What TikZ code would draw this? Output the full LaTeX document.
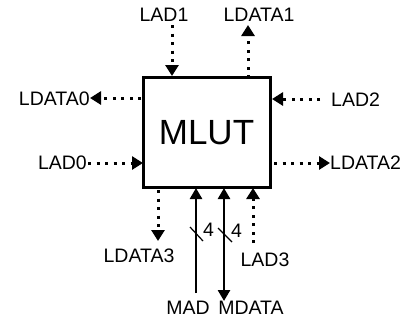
\documentclass[tikz,border=0pt]{standalone}
\usepackage{fontspec}
\setmainfont{Liberation Sans}
\usetikzlibrary{arrows.meta}
\begin{document}
\begin{tikzpicture}[x=1pt,y=-1pt,
  lbl/.style={font=\fontsize{19.5}{21}\selectfont, inner sep=0pt},
  dotline/.style={line width=3pt, dash pattern=on 3pt off 5.5pt, -{Triangle[length=11pt,width=13pt]}},
  solidline/.style={line width=2.6pt},
  busone/.style={-{Triangle[length=11pt,width=12pt]}},
  bustwo/.style={{Triangle[length=11pt,width=12pt]}-{Triangle[length=11pt,width=12pt]}}]
\useasboundingbox (0,0) rectangle (406,325);
\node[draw, line width=3pt, minimum width=127pt, minimum height=110pt, inner sep=0pt] (box) at (206.5,132) {};
\node[font=\fontsize{35}{38}\selectfont, inner sep=0pt] (mlut) at (206.5,133) {MLUT};
% labels
\node[lbl] (lad1) at (164,15) {LAD1};
\node[lbl] (ldata1) at (259,15) {LDATA1};
\node[lbl, anchor=east] (ldata0) at (90,99) {LDATA0};
\node[lbl, anchor=west] (lad2) at (331,100) {LAD2};
\node[lbl, anchor=east] (lad0) at (87,163) {LAD0};
\node[lbl, anchor=west] (ldata2) at (330,163) {LDATA2};
\node[lbl] (ldata3) at (139,256) {LDATA3};
\node[lbl] (lad3) at (265,260) {LAD3};
\node[lbl] (mad) at (188,308) {MAD};
\node[lbl] (mdata) at (251,308) {MDATA};
% coordinates
\coordinate (a1s) at (172,25);   \coordinate (a1e) at (172,76);
\coordinate (d1s) at (248,78);   \coordinate (d1e) at (248,25);
\coordinate (d0s) at (141,98);   \coordinate (d0e) at (90,98);
\coordinate (a2s) at (320,99);   \coordinate (a2e) at (272,99);
\coordinate (a0s) at (88,163);   \coordinate (a0e) at (143,163);
\coordinate (d2s) at (274,163);  \coordinate (d2e) at (330,163);
\coordinate (d3s) at (158,190);  \coordinate (d3e) at (158,241);
\coordinate (a3s) at (253,243);  \coordinate (a3e) at (253,188);
\coordinate (mads) at (196,293); \coordinate (made) at (196,188);
\coordinate (mdt) at (224,188);  \coordinate (mdb) at (224,301);
% dotted connectors
\draw[dotline] (a1s) -- (a1e);
\draw[dotline] (d1s) -- (d1e);
\draw[dotline] (d0s) -- (d0e);
\draw[dotline] (a2s) -- (a2e);
\draw[dotline] (a0s) -- (a0e);
\draw[dotline] (d2s) -- (d2e);
\draw[dotline] (d3s) -- (d3e);
\draw[dotline] (a3s) -- (a3e);
% solid buses
\draw[solidline, busone] (mads) -- (made);
\draw[solidline, bustwo] (mdt) -- (mdb);
% bus width marks
\coordinate (s1a) at (190,227); \coordinate (s1b) at (203,241);
\coordinate (s2a) at (218,228); \coordinate (s2b) at (232,242);
\draw[line width=1.2pt] (s1a) -- (s1b);
\draw[line width=1.2pt] (s2a) -- (s2b);
\node[lbl, anchor=west] (w1) at (203,230) {4};
\node[lbl, anchor=west] (w2) at (231,231) {4};
\end{tikzpicture}
\end{document}
